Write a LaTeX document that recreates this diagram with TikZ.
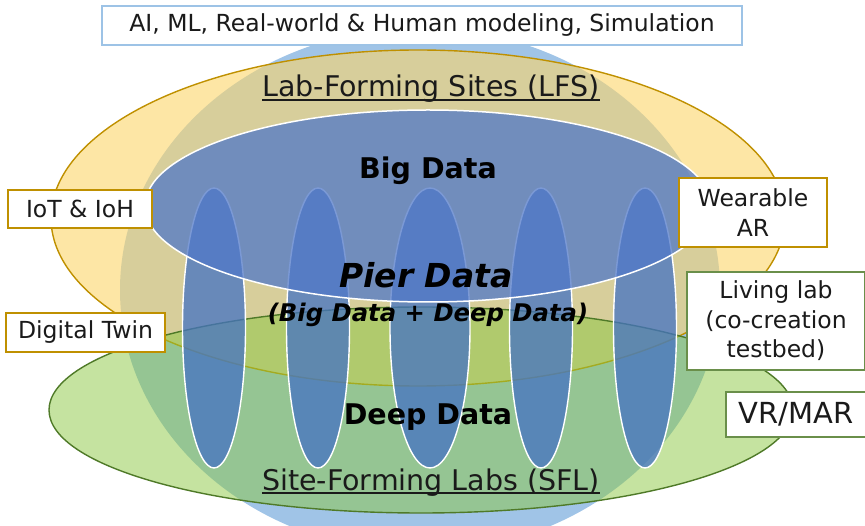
\documentclass[tikz,border=0pt]{standalone}
\usepackage{fontspec}
\setmainfont{DejaVu Sans}
\definecolor{circfill}{RGB}{160,196,231}
\definecolor{yelfill}{RGB}{252,213,105}
\definecolor{orng}{HTML}{BF9000}
\definecolor{grnfill}{RGB}{139,199,65}
\definecolor{dgrn}{HTML}{4F7A28}
\definecolor{pillfill}{HTML}{4472C4}
\definecolor{bigfill}{RGB}{80,120,200}
\definecolor{boxblue}{HTML}{9DC3E6}
\definecolor{boxgold}{HTML}{BF9000}
\definecolor{boxgreen}{HTML}{6A8F4A}
\definecolor{txt}{HTML}{1A1A1A}
\begin{document}
\begin{tikzpicture}[x=1pt,y=-1pt,
  lab/.style={font=\fontsize{28.5}{32}\selectfont, text=txt, inner sep=0pt, anchor=base},
  bigt/.style={font=\fontsize{28.5}{32}\selectfont\bfseries, text=black, inner sep=0pt, anchor=base},
  piert/.style={font=\fontsize{33}{36}\selectfont\bfseries\itshape, text=black, inner sep=0pt, anchor=base},
  parent/.style={font=\fontsize{24.3}{28}\selectfont\bfseries\itshape, text=black, inner sep=0pt, anchor=base},
  box/.style={draw, line width=1.4pt, fill=white, align=center, inner sep=0pt, text=txt,
    font=\fontsize{23.5}{29.5}\selectfont},
  ulin/.style={line width=1.2pt, draw=txt},
  pillar/.style={draw=white, line width=1.4pt, fill=pillfill, fill opacity=0.75}
]
\path[use as bounding box, clip] (0,0) rectangle (865,526);

% background shapes
\fill[circfill] (420,290) ellipse [x radius=300pt, y radius=262pt];
\draw[draw=orng, line width=1.4pt, fill=yelfill, fill opacity=0.6] (418,218) ellipse [x radius=367pt, y radius=168pt];
\draw[draw=dgrn, line width=1.4pt, fill=grnfill, fill opacity=0.5] (421,410) ellipse [x radius=372pt, y radius=103pt];
\foreach \px/\pr in {214/31.5, 318/31.5, 430/40, 541/31.5, 645/31.5}
  \draw[pillar] (\px,328) ellipse [x radius=\pr pt, y radius=140pt];
\draw[draw=white, line width=1.5pt, fill=bigfill, fill opacity=0.75] (428,206) ellipse [x radius=283pt, y radius=96pt];

% labels
\node[lab] (lfs) at (431,97) {Lab-Forming Sites (LFS)};
\draw[ulin] ([yshift=-3pt]lfs.base west) -- ([yshift=-3pt]lfs.base east);
\node[lab] (sfl) at (431,490) {Site-Forming Labs (SFL)};
\draw[ulin] ([yshift=-3pt]sfl.base west) -- ([yshift=-3pt]sfl.base east);
\node[bigt] (big) at (428,179) {Big Data};
\node[piert] (pier) at (426,288) {Pier Data};
\node[parent] (bd) at (428,322) {(Big Data + Deep Data)};
\node[bigt] (deep) at (428,425) {Deep Data};

% boxes
\node[box, draw=boxblue, minimum width=640pt, minimum height=39pt] (ai) at (422,25.5)
  {AI, ML, Real-world \& Human modeling, Simulation};
\node[box, draw=boxgold, minimum width=144pt, minimum height=38pt] (iot) at (80,209) {IoT \& IoH};
\node[box, draw=boxgold, minimum width=159pt, minimum height=39pt] (dt) at (85.5,332.5) {Digital Twin};
\node[box, draw=boxgold, minimum width=148pt, minimum height=69pt] (war) at (753,212.5) {Wearable\\AR};
\node[box, draw=boxgreen, minimum width=178pt, minimum height=98pt] (ll) at (776,321)
  {Living lab\\(co-creation\\testbed)};
\node[box, draw=boxgreen, minimum width=140pt, minimum height=45pt, font=\fontsize{29}{32}\selectfont] (vr) at (796,414.5) {VR/MAR};
\end{tikzpicture}
\end{document}
